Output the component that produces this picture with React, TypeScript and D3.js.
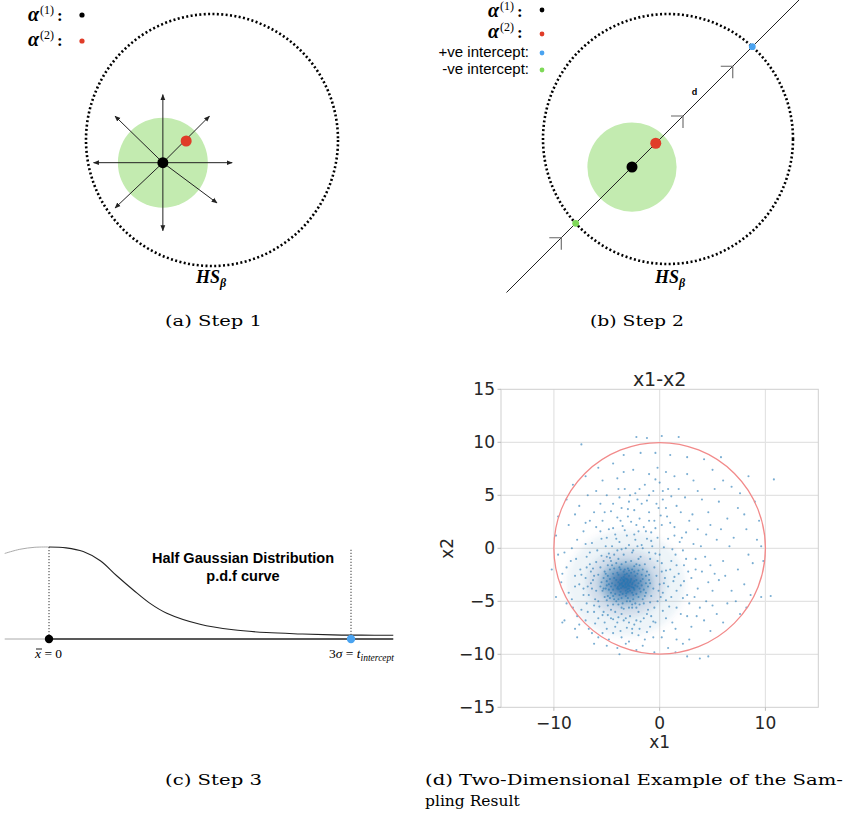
import React from 'react';
import * as d3 from 'd3';

// ---------- Panel (a)/(b) diagram data (units: hypersphere radius = 10) ----------
const hsRadius = 10;
const greenRadius = 3.57;
const alpha1A: [number, number] = [-3.9, -1.8];
const alpha2A: [number, number] = [-2.05, -0.08];
const arrowsA: [number, number][] = [
  [0, 5.4], [0, -5.4], [-5.5, 0], [5.5, 0], [-3.8, 3.7], [3.7, 3.7], [-3.8, -3.6], [4.3, -3.2],
];
const alpha1B: [number, number] = [-2.88, -2.24];
const alpha2B: [number, number] = [-0.98, -0.34];
const lineExtentB: [number, number] = [-14.2, 18.9];
const chevronsB = [-8, 5.77, 11.4];
const dLabelT = 7.8;

// ---------- Panel (c) half gaussian curve (sigma units, relative density) ----------
const pdfX = [-0.44, -0.29, -0.14, 0, 0.17, 0.34, 0.51, 0.67, 0.84, 1.0, 1.17, 1.5, 1.83, 2.16, 2.5, 2.82, 3.1, 3.42];
const pdfY = [0.93, 0.975, 0.997, 1.0, 0.99, 0.95, 0.85, 0.69, 0.53, 0.39, 0.28, 0.16, 0.1, 0.07, 0.055, 0.045, 0.042, 0.04];
const interceptSigma = 3;

// ---------- Panel (d) scatter ----------
const xTicks = [-10, 0, 10];
const yTicks = [-15, -10, -5, 0, 5, 10, 15];
// density of the dense core (centre, radii in data units, opacity level)
const coreCenter: [number, number] = [-3.2, -3.3];
const coreLevels = [
  { rx: 5.6, ry: 5.0, level: 0.07 },
  { rx: 3.7, ry: 3.2, level: 0.15 },
  { rx: 2.5, ry: 2.1, level: 0.3 },
  { rx: 1.7, ry: 1.4, level: 0.45 },
  { rx: 0.95, ry: 0.85, level: 0.5 },
];
const samples: [number, number][] = [
  [-3.2,-3.3],[-3.0,-3.5],[-3.4,-3.1],[-2.8,-3.2],[-3.6,-3.4],[-3.1,-2.9],[-3.3,-3.7],[-2.9,-3.8],[-3.7,-3.0],[-2.6,-3.4],
  [-3.5,-3.6],[-3.0,-3.0],[-3.8,-3.5],[-2.7,-2.9],[-3.2,-4.0],[-3.9,-3.2],[-2.5,-3.7],[-3.4,-2.7],[-3.0,-4.1],[-4.0,-3.8],
  [-2.4,-3.1],[-3.6,-2.8],[-2.8,-4.0],[-4.1,-3.0],[-3.3,-2.5],[-2.3,-3.5],[-3.7,-4.1],[-2.9,-2.6],[-4.2,-3.5],[-2.6,-4.2],
  [-3.5,-4.3],[-3.1,-2.4],[-4.3,-2.8],[-2.2,-3.0],[-3.9,-2.5],[-2.4,-3.9],[-3.2,-4.5],[-4.4,-3.9],[-2.7,-2.3],[-3.8,-4.4],
  [-2.1,-3.6],[-4.5,-3.3],[-3.4,-2.2],[-2.5,-4.4],[-4.0,-2.3],[-2.0,-3.3],[-3.0,-4.7],[-4.6,-3.6],[-2.9,-2.1],[-4.2,-4.3],
  [-2.3,-2.6],[-3.6,-4.7],[-1.9,-3.8],[-4.7,-2.9],[-3.3,-2.0],[-2.2,-4.3],[-4.4,-2.4],[-3.9,-4.8],[-1.8,-3.1],[-2.6,-2.0],
  [-4.8,-3.4],[-3.1,-5.0],[-2.0,-4.6],[-4.6,-4.2],[-3.7,-2.0],[-1.7,-3.5],[-2.8,-5.0],[-5.0,-3.1],[-2.4,-2.2],[-4.1,-5.0],
  [-3.0,-1.9],[-1.8,-4.1],[-4.9,-2.6],[-2.5,-4.8],[-3.5,-5.2],[-1.6,-2.9],[-4.3,-1.9],[-5.1,-3.8],[-2.1,-2.4],[-3.8,-1.8],
  [-3.25,-3.45],[-3.05,-3.15],[-3.45,-3.55],[-2.95,-3.35],[-3.35,-3.05],[-3.15,-3.65],[-2.85,-3.55],[-3.55,-3.25],[-3.65,-3.75],[-2.75,-3.05],
  [-3.05,-3.85],[-3.75,-3.35],[-2.65,-3.65],[-3.45,-2.95],[-3.85,-3.85],[-2.55,-3.25],[-3.25,-2.85],[-3.15,-4.25],[-3.95,-3.65],[-2.45,-3.75],
  [-5.5,-3.2],[-5.8,-2.5],[-6.0,-4.0],[-5.2,-4.6],[-5.6,-1.8],[-6.3,-3.0],[-4.9,-5.4],[-5.3,-1.2],[-6.5,-2.2],[-4.6,-5.8],
  [-6.1,-4.8],[-5.0,-0.8],[-6.8,-3.6],[-4.2,-6.0],[-5.7,-5.5],[-4.8,-0.5],[-6.6,-1.5],[-3.6,-6.2],[-7.0,-2.8],[-5.4,-6.3],
  [-1.0,-3.0],[-0.6,-3.8],[-1.2,-2.2],[-0.8,-4.5],[-0.3,-2.6],[-1.4,-1.5],[0.0,-3.4],[-0.5,-1.8],[-1.5,-5.2],[0.3,-4.2],
  [-0.9,-1.0],[0.5,-2.8],[-1.8,-0.8],[0.2,-1.4],[-2.2,-5.6],[0.8,-3.6],[-0.2,-5.0],[1.0,-2.0],[-1.1,-5.8],[0.6,-4.9],
  [1.3,-3.1],[-0.4,-0.5],[1.1,-1.2],[1.6,-4.0],[0.9,-5.5],[1.8,-2.4],[-0.7,0.2],[1.5,-0.6],[2.0,-3.5],[0.4,0.1],
  [-2.0,-1.0],[-2.6,-0.4],[-3.4,-0.6],[-4.0,-0.2],[-2.9,0.3],[-1.6,0.0],[-3.8,0.6],[-2.3,0.8],[-4.5,0.2],[-1.2,0.9],
  [-3.1,1.2],[-2.0,1.6],[-4.2,1.3],[-1.5,2.0],[-3.5,2.1],[-0.8,1.5],[-2.7,2.5],[-4.8,1.8],[-0.2,1.0],[-1.9,2.8],
  [-3.0,3.0],[-0.5,2.6],[-4.0,2.9],[-1.0,3.4],[-2.4,3.6],[0.2,2.2],[-3.6,3.8],[-0.1,3.8],[-1.7,4.2],[-2.9,4.4],
  [-2.0,-6.0],[-2.8,-6.4],[-3.4,-6.8],[-1.5,-6.6],[-4.0,-7.0],[-2.4,-7.2],[-0.8,-6.4],[-3.1,-7.5],[-1.9,-7.6],[-4.6,-6.6],
  [-0.4,-7.0],[-2.6,-8.0],[-1.2,-7.9],[-3.7,-7.8],[-5.2,-7.0],
  [-5.9,-0.2],[-6.4,0.5],[-5.5,0.9],[-6.9,-0.8],[-7.2,-4.4],[-7.5,-2.0],[-6.9,-5.2],[-7.6,-3.4],[-6.2,-6.0],[-7.9,-1.0],
  [-5.6,1.6],[-7.0,0.4],[-8.0,-2.6],[-7.4,-5.8],[-6.0,2.0],
  [2.3,-1.6],[2.6,-4.4],[2.2,-0.2],[3.0,-2.8],[1.9,0.6],[2.8,-5.2],[3.4,-1.0],[1.4,1.2],[3.6,-3.8],[2.5,1.5],
  [3.2,0.4],[1.0,2.4],[4.0,-2.2],[2.0,-6.2],[3.8,-5.6],[1.2,-7.0],[4.3,-0.8],[0.7,3.0],[2.8,2.6],[4.6,-3.2],
  [-1.0,5.0],[0.3,4.6],[-2.3,5.2],[0.8,5.6],[-1.4,6.0],[1.6,4.0],[-3.3,5.6],[0.0,6.2],[2.4,4.8],[-4.4,4.2],
  [-5.2,3.4],[-6.6,2.6],[-7.2,1.6],[-5.0,5.0],[-8.3,0.0],[-8.6,-4.2],[-8.8,-1.8],[-7.8,-6.4],[-6.7,-7.6],[-8.2,-5.6],
  [-9.0,-6.8],[-9.3,-3.2],[-9.6,-0.6],[-5.8,-8.4],[-4.8,-8.6],[-3.2,-9.0],[-1.6,-9.2],[0.2,-8.4],[1.6,-8.6],[3.0,-7.4],
  [-0.5,-9.8],[2.2,-9.0],[4.2,-6.8],[5.0,-5.4],[5.6,-3.0],[6.0,-1.2],[5.4,0.8],[6.8,-4.0],[7.4,-2.0],[7.0,1.0],
  [4.8,2.2],[6.4,2.8],[5.6,4.4],[4.0,4.6],[3.2,6.4],[1.4,6.8],[-0.2,7.6],[-2.5,7.4],[-4.0,6.6],[-6.0,5.4],
  [-7.6,4.0],[-8.6,2.2],[8.2,-5.6],[8.8,-1.4],[9.2,0.8],[8.0,3.2],[7.6,5.2],[6.0,6.4],[4.2,8.4],[1.0,8.8],
  [-1.8,9.0],[-4.4,8.0],[-7.4,9.8],[-8.2,6.0],[8.4,6.8],[10.8,6.5],[9.6,-4.6],[10.5,-4.5],[-9.2,-7.0],[-7.8,-8.4],
  [4.6,-10.2],[3.8,-10.4],[-2.2,10.5],[1.8,10.5],[-10.2,-2.0],[-9.8,1.2],[1.5,-9.8],[7.6,-6.2],[-3.8,-10.0],[5.8,8.6],
  [-5.2,-2.2],[-5.4,-4.0],[-4.9,-1.6],[-5.0,-4.9],[-4.6,-1.2],[-4.4,-5.3],[-3.9,-1.0],[-3.6,-5.6],[-2.9,-5.6],[-2.3,-5.2],
  [-1.6,-4.8],[-1.3,-4.2],[-1.1,-3.6],[-1.3,-2.6],[-1.6,-2.0],[-2.2,-1.5],[-2.7,-1.2],[-3.2,-1.3],[-4.1,-1.4],[-4.7,-2.0],
  [-5.3,-2.8],[-5.6,-3.6],[-5.3,-3.8],[-4.9,-4.5],[-4.3,-4.8],[-3.4,-5.7],[-2.6,-5.6],[-1.9,-5.3],[-1.4,-4.5],[-0.9,-3.3],
  [-1.0,-2.5],[-1.9,-1.6],[-2.4,-1.7],[-3.6,-1.5],[-4.5,-1.6],[-5.1,-2.4],[-4.8,-3.9],[-4.7,-4.7],[-1.5,-3.9],[-1.3,-3.3],
  [-1.7,-2.5],[-2.0,-2.1],[-2.6,-5.3],[-3.9,-5.3],[-4.4,-4.5],[-5.0,-3.5],
  [-6.2,-2.6],[-6.4,-3.8],[-6.7,-4.4],[-6.0,-1.3],[-5.8,-5.0],[-5.3,-6.0],[-4.4,-6.7],[-3.2,-6.6],[-2.2,-6.8],[-1.2,-6.2],
  [-0.5,-5.6],[0.1,-4.6],[0.4,-3.3],[0.2,-2.2],[-0.2,-1.2],[-1.0,-0.4],[-1.7,0.3],[-2.5,-0.2],[-3.2,0.0],[-4.3,-0.6],
  [-5.1,0.2],[-5.5,-0.7],[-6.5,-3.3],[-6.2,-5.4],[-4.9,-6.3],[-3.9,-6.5],[-2.9,-7.0],[-1.8,-6.9],[-0.9,-5.1],[-0.1,-4.0],
  [0.6,-2.1],[0.0,-0.6],[-0.8,0.7],[-2.1,0.2],[-3.6,-0.1],[-4.7,-0.9],[-6.3,-1.9],
  [-4.1,0.9],[-3.3,1.7],[-2.4,1.3],[-1.3,1.6],[-0.4,1.9],[0.8,0.9],[1.2,-0.1],[1.6,-1.6],[1.4,-2.7],[1.1,-4.6],
  [0.3,-5.9],[-0.6,-6.9],[-2.6,-7.6],[-4.2,-7.4],[-5.8,-6.6],[-6.8,-6.0],[-7.2,-3.8],[-7.4,-2.5],[-6.9,-1.8],[-6.6,-0.4],
  [-5.0,1.0],[-4.4,1.9],[-3.7,2.6],[-2.2,2.2],[-1.0,2.6],[0.1,3.1],[1.4,2.0],[2.1,1.0],[2.5,-1.0],[2.7,-2.2],
  [2.3,-3.1],[2.2,-4.7],[1.6,-5.6],[0.6,-6.6],[-0.9,-7.4],[-2.0,-8.2],[-3.6,-8.4],[-5.0,-7.6],[-6.1,-7.1],[-7.0,-6.8],
  [-3.0,3.7],[-2.1,4.6],[-1.2,4.5],[-0.3,4.2],[0.6,3.8],[1.1,4.9],[-0.6,5.4],[-1.9,5.6],[-2.8,5.0],[-3.8,4.8],
  [-4.6,3.5],[-5.4,2.6],[-6.2,3.4],[-5.6,4.2],[-3.9,5.6],[0.3,5.4],[-0.4,6.5],[1.8,5.6],[2.0,3.4],[3.1,3.2],
  [3.6,1.8],[3.9,0.2],[3.4,-2.0],[3.3,-4.6],[2.6,-6.4],[3.5,-6.4],[1.5,-7.6],[0.4,-7.8],[-0.6,-8.4],[-1.4,-8.6],
  [-2.9,-8.8],[-4.4,-8.0],[-5.4,-8.0],[-6.4,-8.0],[-7.6,-7.2],[-8.3,-4.8],[-8.0,-3.6],[-8.4,-1.2],[-7.8,0.8],[-7.0,2.4],
  [4.4,1.3],[4.8,-1.6],[5.0,-4.0],[4.4,-5.0],[5.2,-2.4],[5.8,1.8],[6.2,-2.6],[6.6,0.2],[6.4,-5.2],[5.4,-6.2],
  [4.6,3.4],[5.2,5.6],[3.6,5.4],[2.6,7.0],[0.6,7.2],[-1.0,7.0],[-3.4,7.2],[-5.4,6.4],[-6.8,5.0],[-8.0,3.2],
  [-9.0,-0.4],[-9.2,-2.4],[-8.8,-5.2],[-8.0,-7.6],[-6.2,-9.0],[-4.0,-9.4],[-2.2,-9.6],[0.8,-9.4],[2.8,-8.6],[4.8,-7.8],
  [6.0,-7.0],[7.2,-5.0],[8.0,-3.4],[8.4,-0.6],[8.2,1.8],[7.4,3.8],[6.8,5.8],[5.0,7.4],[2.6,8.6],[-0.4,9.0],
  [-3.4,8.8],[-5.8,7.6],[-7.0,6.8],[-8.8,4.6],[-9.6,3.0],[9.8,-1.2],[9.4,2.6],[9.0,4.4],[-1.2,10.4],[0.2,10.6],
  [2.6,-10.2],[-5.0,-9.2],[-9.8,-4.6],[8.6,-4.4],[9.6,0.2],
];

const W = 843, H = 818;
const serif = "'Liberation Serif', 'DejaVu Serif', serif";
const capSerif = "'DejaVu Serif', serif";
const sans = "'Liberation Sans', Arial, sans-serif";
const mpl = "'DejaVu Sans', sans-serif";

function AlphaLabel({ x, y, n }: { x: number; y: number; n: string }) {
  return (
    <text x={x} y={y} fontFamily={serif} fontSize={20}>
      <tspan fontWeight="bold" fontStyle="italic">α</tspan>
      <tspan fontSize={12} dy={-7} dx={1}>({n})</tspan>
      <tspan fontSize={17} dy={7} dx={3} fontWeight="bold">:</tspan>
    </text>
  );
}

function PanelA() {
  const x = d3.scaleLinear().domain([-10, 10]).range([86, 338]);
  const y = d3.scaleLinear().domain([-10, 10]).range([266, 14]);
  const r = (v: number) => x(v) - x(0);
  const cx = x(alpha1A[0]), cy = y(alpha1A[1]);
  return (
    <g>
      <AlphaLabel x={28} y={21} n="1" />
      <circle cx={82} cy={15} r={2.6} fill="#000" />
      <AlphaLabel x={28} y={46} n="2" />
      <circle cx={82} cy={41} r={2.6} fill="#e03c28" />
      <circle cx={x(0)} cy={y(0)} r={r(hsRadius)} fill="none" stroke="#000" strokeWidth={2.6} strokeDasharray="2 2.4" />
      <circle cx={cx} cy={cy} r={r(greenRadius)} fill="#c3ebb0" />
      {arrowsA.map((a, i) => (
        <line key={i} x1={cx} y1={cy} x2={x(alpha1A[0] + a[0])} y2={y(alpha1A[1] + a[1])}
          stroke="#222" strokeWidth={1} markerEnd="url(#ahA)" />
      ))}
      <circle cx={x(alpha2A[0])} cy={y(alpha2A[1])} r={5.5} fill="#e03c28" />
      <circle cx={cx} cy={cy} r={5.5} fill="#000" />
      <text x={196} y={283} fontFamily={serif} fontSize={18} fontStyle="italic" fontWeight="bold">HS<tspan fontSize={12} dy={4}>β</tspan></text>
    </g>
  );
}

function PanelB() {
  const x = d3.scaleLinear().domain([-10, 10]).range([543, 793]);
  const y = d3.scaleLinear().domain([-10, 10]).range([264, 14]);
  const r = (v: number) => x(v) - x(0);
  const dx = alpha2B[0] - alpha1B[0], dy = alpha2B[1] - alpha1B[1];
  const len = Math.hypot(dx, dy);
  const u = [dx / len, dy / len];
  const pt = (t: number): [number, number] => [alpha1B[0] + u[0] * t, alpha1B[1] + u[1] * t];
  const b = alpha1B[0] * u[0] + alpha1B[1] * u[1];
  const c = alpha1B[0] ** 2 + alpha1B[1] ** 2 - hsRadius ** 2;
  const disc = Math.sqrt(b * b - c);
  const tPos = -b + disc, tNeg = -b - disc;
  const p0 = pt(lineExtentB[0]), p1 = pt(lineExtentB[1]);
  const pos = pt(tPos), neg = pt(tNeg);
  const dl = pt(dLabelT);
  const pdx = x(pt(1)[0]) - x(pt(0)[0]), pdy = y(pt(1)[1]) - y(pt(0)[1]);
  const pl = Math.hypot(pdx, pdy);
  const ux = pdx / pl, uy = pdy / pl;
  const arm = 12;
  const rot = (vx: number, vy: number, ang: number) => [vx * Math.cos(ang) - vy * Math.sin(ang), vx * Math.sin(ang) + vy * Math.cos(ang)];
  return (
    <g>
      <AlphaLabel x={488} y={17} n="1" />
      <circle cx={542} cy={10} r={2.4} fill="#000" />
      <AlphaLabel x={488} y={38} n="2" />
      <circle cx={542} cy={34} r={2.4} fill="#e03c28" />
      <text x={529} y={57} textAnchor="end" fontFamily={sans} fontSize={15}>+ve intercept:</text>
      <circle cx={542} cy={53} r={2.4} fill="#4aa3f0" />
      <text x={529} y={74} textAnchor="end" fontFamily={sans} fontSize={15}>-ve intercept:</text>
      <circle cx={542} cy={70} r={2.4} fill="#7ed957" />
      <circle cx={x(0)} cy={y(0)} r={r(hsRadius)} fill="none" stroke="#000" strokeWidth={2.6} strokeDasharray="2 2.4" />
      <circle cx={x(alpha1B[0])} cy={y(alpha1B[1])} r={r(greenRadius)} fill="#c3ebb0" />
      <line x1={x(p0[0])} y1={y(p0[1])} x2={x(p1[0])} y2={y(p1[1])} stroke="#222" strokeWidth={1} />
      {chevronsB.map((t, i) => {
        const p = pt(t);
        const px = x(p[0]), py = y(p[1]);
        const a1 = rot(-ux, -uy, Math.PI / 4), a2 = rot(-ux, -uy, -Math.PI / 4);
        return (
          <path key={i} d={`M${px + a1[0] * arm},${py + a1[1] * arm}L${px},${py}L${px + a2[0] * arm},${py + a2[1] * arm}`}
            fill="none" stroke="#666" strokeWidth={1.1} />
        );
      })}
      <text x={x(dl[0]) + uy * 9} y={y(dl[1]) - ux * 9 + 3} fontFamily={sans} fontSize={9} fontWeight="bold" textAnchor="middle">d</text>
      <circle cx={x(pos[0])} cy={y(pos[1])} r={3.4} fill="#4aa3f0" />
      <circle cx={x(neg[0])} cy={y(neg[1])} r={3.4} fill="#7ed957" />
      <circle cx={x(alpha2B[0])} cy={y(alpha2B[1])} r={5.5} fill="#e03c28" />
      <circle cx={x(alpha1B[0])} cy={y(alpha1B[1])} r={5.5} fill="#000" />
      <text x={655} y={283} fontFamily={serif} fontSize={18} fontStyle="italic" fontWeight="bold">HS<tspan fontSize={12} dy={4}>β</tspan></text>
    </g>
  );
}

function PanelC() {
  const x = d3.scaleLinear().domain([0, 3]).range([49, 351]);
  const y = d3.scaleLinear().domain([0, 1]).range([639, 547]);
  const pts = pdfX.map((v, i) => [v, pdfY[i]] as [number, number]);
  const line = d3.line<[number, number]>().x(d => x(d[0])).y(d => y(d[1])).curve(d3.curveCatmullRom.alpha(0.5));
  const left = pts.filter(d => d[0] <= 0);
  const right = pts.filter(d => d[0] >= 0);
  const xMin = x(pdfX[0]), xMax = x(pdfX[pdfX.length - 1]);
  return (
    <g>
      <path d={line(left) || ''} fill="none" stroke="#aaa" strokeWidth={1} />
      <path d={line(right) || ''} fill="none" stroke="#222" strokeWidth={1.1} />
      <line x1={xMin} x2={x(0)} y1={y(0)} y2={y(0)} stroke="#aaa" strokeWidth={1} />
      <line x1={x(0)} x2={xMax} y1={y(0)} y2={y(0)} stroke="#222" strokeWidth={1.3} />
      <line x1={x(0)} x2={x(0)} y1={y(1)} y2={y(0)} stroke="#333" strokeWidth={1} strokeDasharray="1.2 1.8" />
      <line x1={x(interceptSigma)} x2={x(interceptSigma)} y1={y(0.97)} y2={y(0)} stroke="#333" strokeWidth={1} strokeDasharray="1.2 1.8" />
      <circle cx={x(0)} cy={y(0)} r={4.2} fill="#000" />
      <circle cx={x(interceptSigma)} cy={y(0)} r={4.2} fill="#4aa3f0" />
      <text x={243} y={563} textAnchor="middle" fontFamily={sans} fontWeight="bold" fontSize={14.5}>Half Gaussian Distribution</text>
      <text x={243} y={581} textAnchor="middle" fontFamily={sans} fontWeight="bold" fontSize={14.5}>p.d.f curve</text>
      <text x={35} y={658} fontFamily={serif} fontSize={13.5}><tspan fontStyle="italic">x</tspan> = 0</text>
      <line x1={36} x2={42} y1={649} y2={649} stroke="#000" strokeWidth={0.9} />
      <text x={329} y={658} fontFamily={serif} fontSize={13.5}>3<tspan fontStyle="italic">σ</tspan> = <tspan fontStyle="italic">t</tspan><tspan fontStyle="italic" fontSize={9.5} dy={3}>intercept</tspan></text>
    </g>
  );
}

function PanelD() {
  const x = d3.scaleLinear().domain([-15, 15]).range([501, 818.3]);
  const y = d3.scaleLinear().domain([-15, 15]).range([707.3, 389.3]);
  const fmt = (v: number) => (v < 0 ? '\u2212' + Math.abs(v) : String(v));
  const rr = x(10) - x(0);
  const k = x(1) - x(0);
  return (
    <g>
      {xTicks.map(t => <line key={'gx' + t} x1={x(t)} x2={x(t)} y1={y(-15)} y2={y(15)} stroke="#e3e3e3" strokeWidth={1.2} />)}
      {yTicks.filter(t => Math.abs(t) < 15).map(t => <line key={'gy' + t} x1={x(-15)} x2={x(15)} y1={y(t)} y2={y(t)} stroke="#e3e3e3" strokeWidth={1.2} />)}
      <g filter="url(#blurCore)">
        {coreLevels.map((c, i) => (
          <ellipse key={i} cx={x(coreCenter[0])} cy={y(coreCenter[1])} rx={c.rx * k} ry={c.ry * k} fill="#1f5f9e" fillOpacity={c.level} />
        ))}
      </g>
      {samples.map((p, i) => (
        <circle key={i} cx={x(p[0])} cy={y(p[1])} r={1.05} fill="#1f77b4" fillOpacity={0.6} />
      ))}
      <circle cx={x(0)} cy={y(0)} r={rr} fill="none" stroke="#f28a8a" strokeWidth={1.3} />
      <rect x={x(-15)} y={y(15)} width={x(15) - x(-15)} height={y(-15) - y(15)} fill="none" stroke="#cfcfcf" strokeWidth={1} />
      {yTicks.map(t => (
        <g key={'ty' + t}>
          <line x1={x(-15) - 3.5} x2={x(-15)} y1={y(t)} y2={y(t)} stroke="#bbb" />
          <text x={x(-15) - 6} y={y(t)} dy="0.36em" textAnchor="end" fontFamily={mpl} fontSize={17} fill="#262626">{fmt(t)}</text>
        </g>
      ))}
      {xTicks.map(t => (
        <g key={'tx' + t}>
          <line x1={x(t)} x2={x(t)} y1={y(-15)} y2={y(-15) + 3.5} stroke="#bbb" />
          <text x={x(t)} y={y(-15) + 22} textAnchor="middle" fontFamily={mpl} fontSize={17} fill="#262626">{fmt(t)}</text>
        </g>
      ))}
      <text x={x(0)} y={748} textAnchor="middle" fontFamily={mpl} fontSize={17} fill="#262626">x1</text>
      <text transform={`translate(453,${y(0)}) rotate(-90)`} textAnchor="middle" fontFamily={mpl} fontSize={17} fill="#262626">x2</text>
      <text x={x(0)} y={386} textAnchor="middle" fontFamily={mpl} fontSize={19} fill="#262626">x1-x2</text>
    </g>
  );
}

export default function App() {
  return (
    <svg width={W} height={H} viewBox={`0 0 ${W} ${H}`} style={{ position: 'absolute', left: 0, top: 0, background: '#fff' }}>
      <defs>
        <marker id="ahA" viewBox="0 0 10 10" refX="9" refY="5" markerWidth="6" markerHeight="6" orient="auto">
          <path d="M0,1L10,5L0,9z" fill="#222" />
        </marker>
        <filter id="blurCore" x="-50%" y="-50%" width="200%" height="200%">
          <feGaussianBlur stdDeviation="3" />
        </filter>
      </defs>
      <rect width={W} height={H} fill="#fff" />
      <PanelA />
      <PanelB />
      <PanelC />
      <PanelD />
      <text x={165} y={326} fontFamily={capSerif} fontSize={15.5} textLength={97} lengthAdjust="spacingAndGlyphs">(a) Step 1</text>
      <text x={590} y={326} fontFamily={capSerif} fontSize={15.5} textLength={94} lengthAdjust="spacingAndGlyphs">(b) Step 2</text>
      <text x={165} y={785} fontFamily={capSerif} fontSize={15.5} textLength={97} lengthAdjust="spacingAndGlyphs">(c) Step 3</text>
      <text x={425} y={785} fontFamily={capSerif} fontSize={15.5} textLength={418} lengthAdjust="spacingAndGlyphs">(d) Two-Dimensional Example of the Sam-</text>
      <text x={425} y={806} fontFamily={capSerif} fontSize={15.5}>pling Result</text>
    </svg>
  );
}
